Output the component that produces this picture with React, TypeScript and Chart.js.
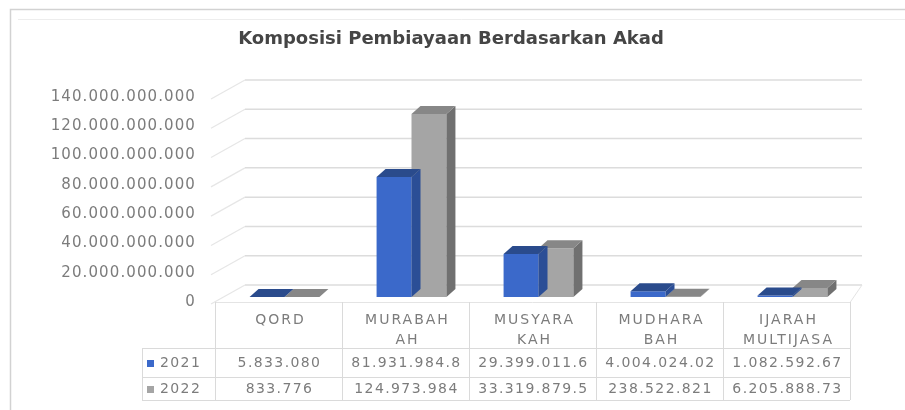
import React, { useEffect, useRef } from "react";
import { Chart, registerables } from "chart.js";

Chart.register(...registerables);

// ---------- data ----------
const categories: string[][] = [
  ["QORD"],
  ["MURABAH", "AH"],
  ["MUSYARA", "KAH"],
  ["MUDHARA", "BAH"],
  ["IJARAH", "MULTIJASA"],
];
const seriesNames = ["2021", "2022"];
const values2021 = [5833080, 81931984800, 29399011600, 4004024020, 1082592670];
const values2022 = [833776, 124973984000, 33319879500, 238522821, 6205888730];
// texts as shown (truncated) in the data table
const table2021 = ["5.833.080", "81.931.984.8", "29.399.011.6", "4.004.024.02", "1.082.592.67"];
const table2022 = ["833.776", "124.973.984", "33.319.879.5", "238.522.821", "6.205.888.73"];
const yMin = 0;
const yMax = 140000000000;
const yStep = 20000000000;
const chartTitle = "Komposisi Pembiayaan Berdasarkan Akad";

// ---------- styles ----------
const FRONT = ["#3b69ca", "#a5a5a5"];
const SIDE = ["#2b4e96", "#707070"];
const TOP = ["#2a4b8c", "#878787"];
const BX = 6, BY = -5; // bar plane offset
const DXB = 9, DYB = -8; // bar depth
const WDX = 30, WDY = -17; // wall depth
const FONT = "'DejaVu Sans', sans-serif";
const TEXT = "#7c7c7c";

const fmt = (v: number) => String(Math.round(v)).replace(/\B(?=(\d{3})+(?!\d))/g, ".");

const threeD: any = {
  id: "threeD",
  beforeDraw(chart: any) {
    const ctx = chart.ctx;
    ctx.save();
    ctx.fillStyle = "#ffffff";
    ctx.fillRect(0, 0, chart.width, chart.height);
    ctx.strokeStyle = "#d2d2d2";
    ctx.lineWidth = 1.5;
    ctx.strokeRect(10.5, 9.5, chart.width, chart.height);
    ctx.strokeStyle = "#ededed";
    ctx.lineWidth = 1;
    ctx.beginPath();
    ctx.moveTo(18, 19.5);
    ctx.lineTo(chart.width, 19.5);
    ctx.stroke();
    ctx.restore();
    ctx.letterSpacing = "0px";
  },
  beforeDatasetsDraw(chart: any) {
    const { ctx, chartArea, scales } = chart;
    const y = scales.y;
    ctx.save();
    y.ticks.forEach((t: any) => {
      const py = y.getPixelForValue(t.value);
      ctx.strokeStyle = "#e6e6e6";
      ctx.lineWidth = 1.2;
      ctx.beginPath();
      ctx.moveTo(chartArea.left - 4, py + 2);
      ctx.lineTo(chartArea.left + WDX, py + WDY);
      ctx.stroke();
      ctx.strokeStyle = "#dcdcdc";
      ctx.lineWidth = 1.5;
      ctx.beginPath();
      ctx.moveTo(chartArea.left + WDX, py + WDY);
      ctx.lineTo(chartArea.right + 12, py + WDY);
      ctx.stroke();
    });
    const p0 = y.getPixelForValue(0);
    ctx.strokeStyle = "#e4e4e4";
    ctx.lineWidth = 1;
    ctx.beginPath();
    ctx.moveTo(chartArea.left, p0 + 0.5);
    ctx.lineTo(chartArea.right, p0 + 0.5);
    ctx.lineTo(chartArea.right + 12, p0 + WDY);
    ctx.stroke();
    ctx.restore();
  },
  beforeDatasetDraw(chart: any) {
    chart.ctx.save();
    chart.ctx.translate(BX, BY);
  },
  afterDatasetDraw(chart: any, args: any) {
    const ctx = chart.ctx;
    const i = args.index;
    args.meta.data.forEach((bar: any) => {
      const { x, y, base, width } = bar.getProps(["x", "y", "base", "width"], true);
      const l = x - width / 2;
      const r = x + width / 2;
      ctx.fillStyle = SIDE[i];
      ctx.beginPath();
      ctx.moveTo(r, y);
      ctx.lineTo(r + DXB, y + DYB);
      ctx.lineTo(r + DXB, base + DYB);
      ctx.lineTo(r, base);
      ctx.closePath();
      ctx.fill();
      ctx.fillStyle = TOP[i];
      ctx.beginPath();
      ctx.moveTo(l, y);
      ctx.lineTo(l + DXB, y + DYB);
      ctx.lineTo(r + DXB, y + DYB);
      ctx.lineTo(r, y);
      ctx.closePath();
      ctx.fill();
    });
    ctx.restore();
  },
  afterDatasetsDraw(chart: any) {
    chart.ctx.letterSpacing = "1.1px";
  },
  afterDraw(chart: any) {
    const { ctx, chartArea, scales } = chart;
    const x = scales.x;
    const labels = chart.data.labels as string[][];
    const n = labels.length;
    const left = chartArea.left;
    const right = chartArea.right;
    const cw = (right - left) / n;
    const tLeft = 142;
    const hTop = 302, r1 = 348, r2 = 377, r3 = 400;
    ctx.save();
    ctx.letterSpacing = "0px";
    ctx.strokeStyle = "#dadada";
    ctx.lineWidth = 1;
    for (let k = 0; k <= n; k++) {
      const xx = Math.round(left + k * cw) + 0.5;
      ctx.beginPath();
      ctx.moveTo(xx, hTop);
      ctx.lineTo(xx, r3);
      ctx.stroke();
    }
    ctx.beginPath();
    ctx.moveTo(tLeft + 0.5, r1);
    ctx.lineTo(tLeft + 0.5, r3);
    ctx.stroke();
    [r1, r2, r3].forEach((ry) => {
      ctx.beginPath();
      ctx.moveTo(tLeft, ry + 0.5);
      ctx.lineTo(right, ry + 0.5);
      ctx.stroke();
    });
    ctx.fillStyle = TEXT;
    ctx.textAlign = "center";
    ctx.textBaseline = "middle";
    ctx.font = `14px ${FONT}`;
    ctx.letterSpacing = "2px";
    labels.forEach((lines, k) => {
      const cx = x.getPixelForValue(k);
      lines.forEach((ln, j) => ctx.fillText(ln, cx + 2, 320 + j * 20));
    });
    ctx.font = `14px ${FONT}`;
    ctx.letterSpacing = "1.4px";
    const rows = [table2021, table2022];
    rows.forEach((row, ri) => {
      const cy = ri === 0 ? 363 : 389;
      row.forEach((txt, k) => {
        ctx.fillText(txt, x.getPixelForValue(k) + 1, cy);
      });
      ctx.fillStyle = FRONT[ri];
      ctx.fillRect(147, cy - 3, 7, 7);
      ctx.fillStyle = TEXT;
      ctx.textAlign = "left";
      ctx.fillText(seriesNames[ri], 160, cy);
      ctx.textAlign = "center";
    });
    ctx.restore();
    ctx.letterSpacing = "0px";
  },
};

export default function App() {
  const ref = useRef<HTMLCanvasElement | null>(null);
  useEffect(() => {
    document.body.style.margin = "0";
    if (!ref.current) return;
    const chart = new Chart(ref.current, {
      type: "bar",
      data: {
        labels: categories,
        datasets: [
          { label: seriesNames[0], data: values2021, backgroundColor: FRONT[0], borderWidth: 0 },
          { label: seriesNames[1], data: values2022, backgroundColor: FRONT[1], borderWidth: 0 },
        ],
      },
      options: {
        animation: false,
        responsive: false,
        layout: { padding: { left: 52, right: 55, top: 0, bottom: 108 } },
        datasets: { bar: { categoryPercentage: 0.55, barPercentage: 1.0 } },
        plugins: {
          legend: { display: false },
          tooltip: { enabled: false },
          title: {
            display: true,
            text: chartTitle,
            color: "#454545",
            font: { family: FONT, size: 18, weight: "bold" },
            padding: { top: 29, bottom: 46.4 },
          },
        },
        scales: {
          x: { display: false },
          y: {
            min: yMin,
            max: yMax,
            ticks: {
              z: 1,
              stepSize: yStep,
              padding: 19,
              color: TEXT,
              font: { family: FONT, size: 15 },
              callback: (v: any) => fmt(Number(v)),
            },
            grid: { display: false, drawTicks: false },
            border: { display: false },
            afterFit: (s: any) => {
              s.width = 163;
            },
          },
        },
      } as any,
      plugins: [threeD],
    });
    return () => chart.destroy();
  }, []);
  return (
    <div style={{ width: 905, height: 410 }}>
      <canvas ref={ref} width={905} height={410} style={{ display: "block" }} />
    </div>
  );
}
